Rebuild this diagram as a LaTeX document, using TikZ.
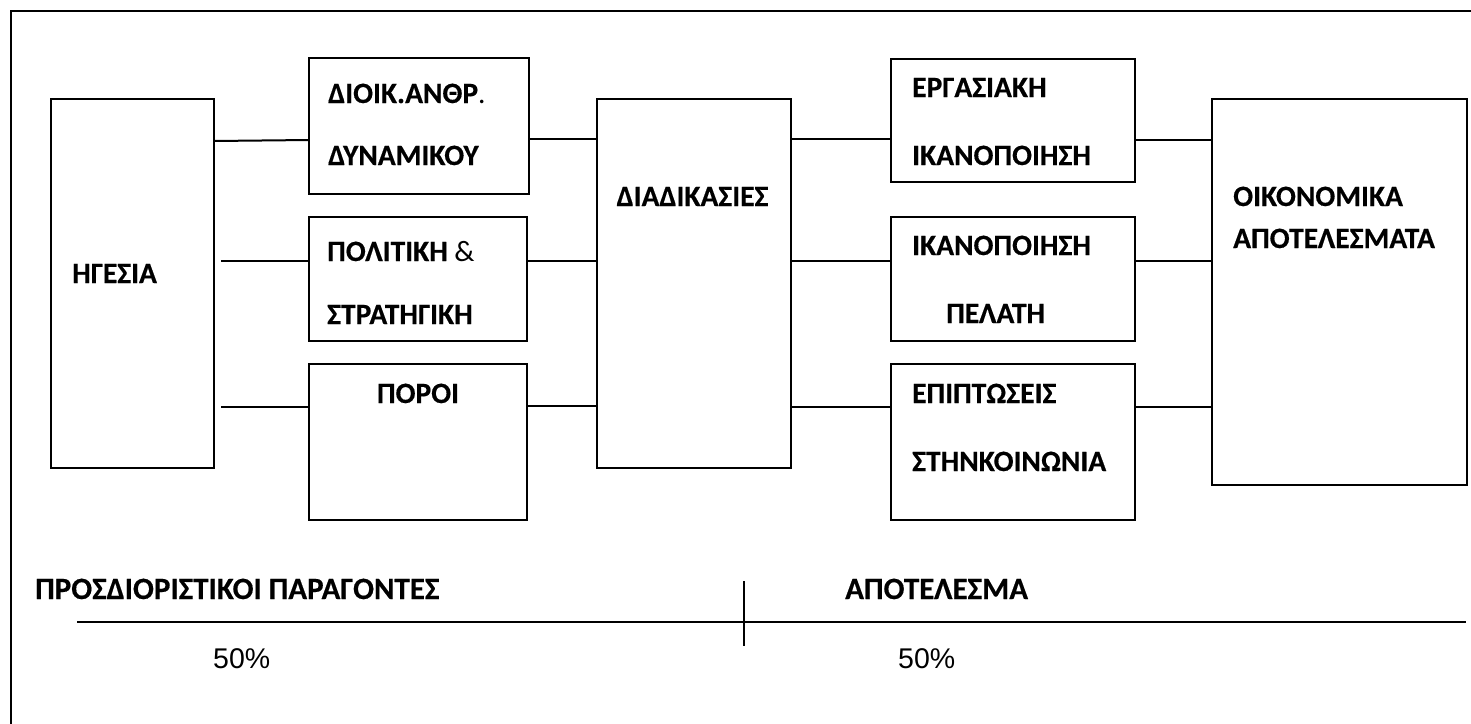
\documentclass[tikz,border=0pt]{standalone}
\usepackage{fontspec}
\setmainfont{Carlito}[BoldFeatures={FakeBold=0.4}]
\newfontfamily\numfont{Liberation Sans}
\begin{document}
\begin{tikzpicture}[x=1pt,y=-1pt,
  box/.style={draw,line width=2pt,inner sep=0pt,outer sep=0pt,rectangle},
  lbl/.style={anchor=base west,inner sep=0pt,font=\fontsize{29.5}{32}\selectfont\bfseries},
  clbl/.style={anchor=base,inner sep=0pt,font=\fontsize{29.5}{32}\selectfont\bfseries},
  blbl/.style={anchor=base west,inner sep=0pt,font=\fontsize{31}{34}\selectfont\bfseries},
  pct/.style={anchor=base west,inner sep=0pt,font=\fontsize{28.5}{31}\selectfont\numfont},
  link/.style={line width=2pt}]
\useasboundingbox (0,0) rectangle (1471,723);
\fill[white] (0,0) rectangle (1471,723);

% outer frame
\draw[line width=2pt] (11,730) -- (11,11) -- (1480,11);

% boxes
\node[box,minimum width=163,minimum height=369] (hg)    at (132.5,283.5) {};
\node[box,minimum width=220,minimum height=136] (dioik) at (419,126) {};
\node[box,minimum width=218,minimum height=124] (polit) at (418,279) {};
\node[box,minimum width=218,minimum height=156] (poroi) at (418,442) {};
\node[box,minimum width=194,minimum height=369] (diad)  at (694,283.5) {};
\node[box,minimum width=244,minimum height=123] (erg)   at (1013,120.5) {};
\node[box,minimum width=244,minimum height=124] (pel)   at (1013,279) {};
\node[box,minimum width=244,minimum height=156] (epi)   at (1013,442) {};
\node[box,minimum width=255,minimum height=386] (oik)   at (1339.5,292) {};

% labels
\node[lbl] (t-hg) at (72,283) {ΗΓΕΣΙΑ};
\node[lbl] (t-d1) at (328,103) {ΔΙΟΙΚ.ΑΝΘΡ{\mdseries .}};
\node[lbl] (t-d2) at (328,165) {ΔΥΝΑΜΙΚΟΥ};
\node[lbl] (t-p1) at (327,261) {ΠΟΛΙΤΙΚΗ {\mdseries \&}};
\node[lbl] (t-p2) at (327,324) {ΣΤΡΑΤΗΓΙΚΗ};
\node[clbl] (t-po) at (418,403) {ΠΟΡΟΙ};
\node[clbl] (t-di) at (692.5,206) {ΔΙΑΔΙΚΑΣΙΕΣ};
\node[lbl] (t-e1) at (912,97) {ΕΡΓΑΣΙΑΚΗ};
\node[lbl] (t-e2) at (912,165) {ΙΚΑΝΟΠΟΙΗΣΗ};
\node[lbl] (t-k1) at (912,255) {ΙΚΑΝΟΠΟΙΗΣΗ};
\node[lbl] (t-k2) at (946,323) {ΠΕΛΑΤΗ};
\node[lbl] (t-s1) at (912,403) {ΕΠΙΠΤΩΣΕΙΣ};
\node[lbl] (t-s2) at (912,471) {ΣΤΗΝΚΟΙΝΩΝΙΑ};
\node[lbl] (t-o1) at (1233,206) {ΟΙΚΟΝΟΜΙΚΑ};
\node[lbl] (t-o2) at (1233,248) {ΑΠΟΤΕΛΕΣΜΑΤΑ};

% connectors
\draw[link] (hg.east |- 0,141) -- (dioik.west |- 0,140);
\draw[link] ([xshift=7pt]hg.east |- 0,261) -- (polit.west |- 0,261);
\draw[link] ([xshift=7pt]hg.east |- 0,407) -- (poroi.west |- 0,407);
\draw[link] (dioik.east |- 0,139) -- (diad.west |- 0,139);
\draw[link] (polit.east |- 0,261) -- (diad.west |- 0,261);
\draw[link] (poroi.east |- 0,406) -- (diad.west |- 0,406);
\draw[link] (diad.east |- 0,139) -- (erg.west |- 0,139);
\draw[link] (diad.east |- 0,261) -- (pel.west |- 0,261);
\draw[link] (diad.east |- 0,407) -- (epi.west |- 0,407);
\draw[link] (erg.east |- 0,140) -- (oik.west |- 0,140);
\draw[link] (pel.east |- 0,261) -- (oik.west |- 0,261);
\draw[link] (epi.east |- 0,407) -- (oik.west |- 0,407);

% bottom scale
\node[blbl] (det) at (35,599) {ΠΡΟΣΔΙΟΡΙΣΤΙΚΟΙ ΠΑΡΑΓΟΝΤΕΣ};
\node[blbl] (res) at (845,599) {ΑΠΟΤΕΛΕΣΜΑ};
\coordinate (axl) at (77,622);
\coordinate (axr) at (1466,622);
\coordinate (divt) at (744,581);
\coordinate (divb) at (744,646);
\draw[line width=2.5pt] (axl) -- (axr);
\draw[line width=1.2pt] (divt) -- (divb);
\node[pct] (p1) at (213,668) {50\%};
\node[pct] (p2) at (898,668) {50\%};
\end{tikzpicture}
\end{document}
